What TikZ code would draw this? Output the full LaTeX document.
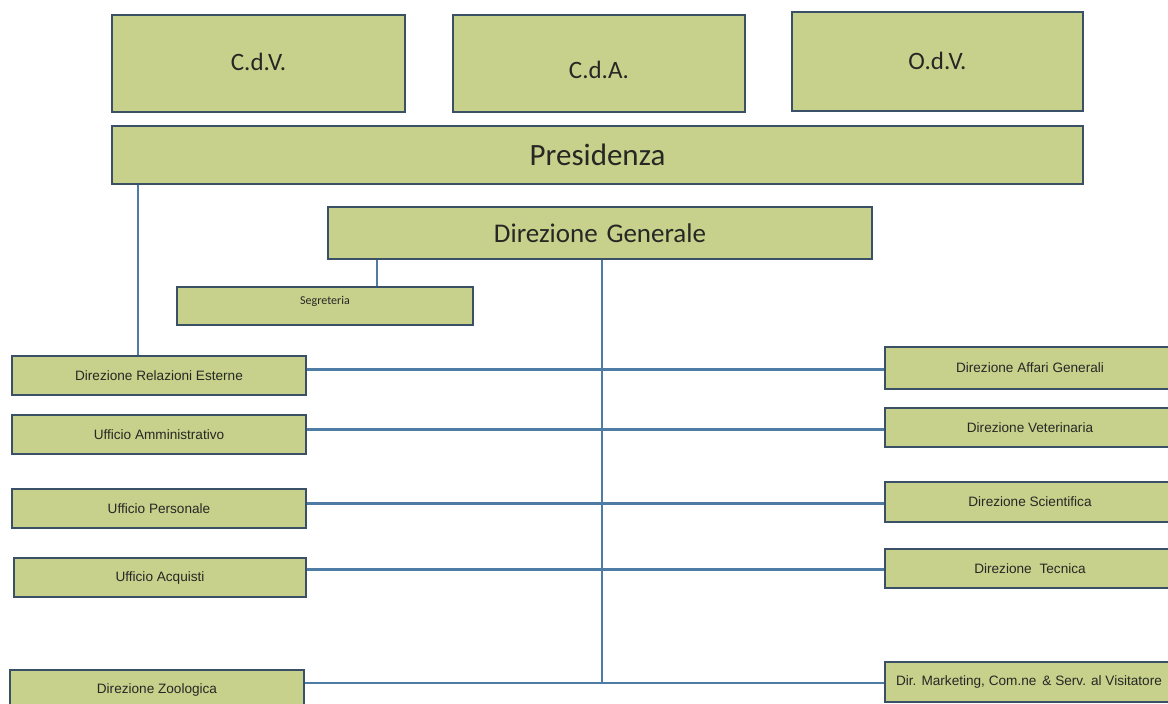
\documentclass[tikz,border=0pt]{standalone}
\usepackage{fontspec}
\setmainfont{Carlito}
\newfontfamily\arialf{Liberation Sans}
\definecolor{boxfill}{RGB}{199,209,140}
\definecolor{boxline}{RGB}{58,80,102}
\definecolor{conn}{RGB}{78,124,165}
\definecolor{txt}{RGB}{38,40,36}
\begin{document}
\begin{tikzpicture}[x=1pt,y=-1pt,
  box/.style={draw=boxline, line width=2.8pt, fill=boxfill, rectangle, inner sep=0pt, text=txt, align=center},
  bigbox/.style={box, font=\fontsize{25}{28}\selectfont},
  headbox/.style={box, font=\fontsize{27}{30}\selectfont},
  smallbox/.style={box, font=\arialf\fontsize{13.6}{15}\selectfont, minimum height=39pt},
  conline/.style={draw=conn, line width=2.4pt}]
\useasboundingbox (0,0) rectangle (1168,704);
\clip (0,0) rectangle (1168,704);
% boxes (positioned by centre)
\node[bigbox, minimum width=293pt, minimum height=97pt] (cdv) at (258.5,63.5) {\raisebox{3pt}{C.d.V.}};
\node[bigbox, minimum width=292pt, minimum height=97pt,
  label={[text=txt, font=\fontsize{25}{28}\selectfont, yshift=-6pt]center:C.d.A.}] (cda) at (599,63.5) {};
\node[bigbox, minimum width=291pt, minimum height=99pt] (odv) at (937.5,61.5) {\raisebox{2pt}{O.d.V.}};
\node[headbox, minimum width=971pt, minimum height=58pt, font=\fontsize{31}{34}\selectfont] (pres) at (597.5,155) {Presidenza};
\node[headbox, minimum width=544pt, minimum height=52pt] (dg) at (600,233) {Direzione\hspace{0.1em} Generale};
\node[box, minimum width=296pt, minimum height=38pt,
  label={[text=txt, font=\fontsize{12}{14}\selectfont, yshift=5pt]center:Segreteria}] (seg) at (325,306) {};
% left column
\node[smallbox, minimum width=294pt] (dre) at (159,375.5) {Direzione Relazioni Esterne};
\node[smallbox, minimum width=294pt] (uam) at (159,434.5) {Ufficio Amministrativo};
\node[smallbox, minimum width=294pt] (upe) at (159,508.5) {Ufficio Personale};
\node[smallbox, minimum width=292pt] (uac) at (160,577.5) {Ufficio Acquisti};
\node[smallbox, minimum width=294pt, minimum height=40pt] (dzo) at (157,690) {\raisebox{2pt}{Direzione Zoologica}};
% right column
\node[smallbox, minimum width=290pt, minimum height=42pt] (dag) at (1030,368) {Direzione Affari Generali};
\node[smallbox, minimum width=290pt] (dve) at (1030,427.5) {Direzione Veterinaria};
\node[smallbox, minimum width=290pt, minimum height=40pt] (dsc) at (1030,502) {Direzione Scientifica};
\node[smallbox, minimum width=290pt] (dte) at (1030,568.5) {Direzione\hspace{0.3em} Tecnica};
\node[smallbox, minimum width=288pt, minimum height=40pt] (dmk) at (1029,682) {Dir. Marketing, Com.ne \,\& Serv. al Visitatore};
% connectors
\coordinate (trunkend) at (602,683);
\draw[conline] (pres.south -| 138,0) -- (dre.north -| 138,0);
\draw[conline] (dg.south -| 377,0) -- (seg.north -| 377,0);
\draw[conline] (dg.south -| trunkend) -- (trunkend);
\draw[conline] ([yshift=6pt]dre.east) -- ([yshift=6pt]dre.east -| dag.west);
\draw[conline] ([yshift=5pt]uam.east) -- ([yshift=5pt]uam.east -| dve.west);
\draw[conline] ([yshift=5pt]upe.east) -- ([yshift=5pt]upe.east -| dsc.west);
\draw[conline] ([yshift=8pt]uac.east) -- ([yshift=8pt]uac.east -| dte.west);
\draw[conline] (dzo.east |- trunkend) -- (dmk.west |- trunkend);
\end{tikzpicture}
\end{document}
